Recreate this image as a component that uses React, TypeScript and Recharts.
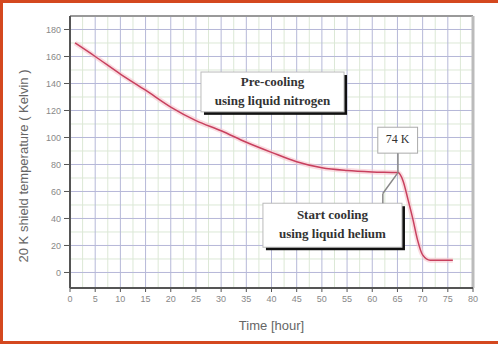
import {
  LineChart,
  Line,
  XAxis,
  YAxis,
  CartesianGrid,
  ReferenceArea,
  ReferenceLine,
  Label,
} from "recharts";

// cool-down of the 20 K shield: LN2 pre-cooling, then liquid helium
const hours = [1, 5, 10, 15, 20, 25, 30, 35, 40, 45, 50, 55, 60, 65.1, 66.1, 67.1, 68.1, 69, 70, 71.5, 76];
const kelvin = [170, 160, 147, 135, 122.5, 112.5, 105, 96.5, 89, 82, 77.5, 75.5, 74.5, 74, 68, 54, 39, 24, 13, 9, 9];

const xTicks = [0, 5, 10, 15, 20, 25, 30, 35, 40, 45, 50, 55, 60, 65, 70, 75, 80];
const xMinor = [2.5, 7.5, 12.5, 17.5, 22.5, 27.5, 32.5, 37.5, 42.5, 47.5, 52.5, 57.5, 62.5, 67.5, 72.5, 77.5];
const yTicks = [0, 20, 40, 60, 80, 100, 120, 140, 160, 180];
const yMinor = [10, 30, 50, 70, 90, 110, 130, 150, 170];

const precoolNote = ["Pre-cooling", "using liquid nitrogen"];
const heliumNote = ["Start cooling", "using liquid helium"];
const peakNote = ["74 K"];

const data = hours.map((h, i) => ({ hour: h, kelvin: kelvin[i] }));

const TICK = { fontSize: 9, fill: "#888", fontFamily: "Liberation Sans, Arial" };
const TITLE_FONT = "Liberation Sans, Arial";

interface NoteProps {
  x?: number;
  y?: number;
  width?: number;
  height?: number;
  lines: string[];
  shadow?: boolean;
  bold?: boolean;
}

function NoteBox({ x = 0, y = 0, width = 0, height = 0, lines, shadow, bold }: NoteProps) {
  const cx = x + width / 2;
  const gap = 19;
  const top = y + height / 2 - ((lines.length - 1) * gap) / 2 - 1;
  return (
    <g>
      {shadow && <rect x={x + 3} y={y + 3} width={width} height={height} fill="#111" />}
      <rect x={x} y={y} width={width} height={height} fill="#fff" stroke={shadow ? "#bbb" : "#aaa"} strokeWidth={1} />
      {lines.map((t, i) => (
        <text
          key={t}
          x={cx}
          y={top + i * gap}
          textAnchor="middle"
          dominantBaseline="central"
          fontFamily="Liberation Serif, Times New Roman, serif"
          fontWeight={bold ? "bold" : "normal"}
          fontSize={bold ? 13 : 12}
          fill="#333"
        >
          {t}
        </text>
      ))}
    </g>
  );
}

export default function App() {
  return (
    <div style={{ position: "absolute", left: 0, top: 0, width: 501, height: 344, background: "#fff" }}>
      <div
        style={{
          position: "absolute",
          left: 0,
          top: 0,
          width: 498,
          height: 344,
          boxSizing: "border-box",
          borderTop: "3px solid #d4481f",
          borderLeft: "3px solid #d4481f",
          borderBottom: "3px solid #d4481f",
        }}
      />
      <div style={{ position: "absolute", left: 0, top: 0 }}>
        <LineChart width={501} height={344} data={data} margin={{ top: 16, right: 28, bottom: 26, left: 0 }}>
          <CartesianGrid horizontalValues={yMinor} verticalValues={xMinor} stroke="#dce8d6" strokeWidth={1} />
          <CartesianGrid horizontalValues={yTicks} verticalValues={xTicks} stroke="#b6b8d8" strokeWidth={1} />
          <XAxis
            dataKey="hour"
            type="number"
            domain={[0, 80]}
            ticks={xTicks}
            interval={0}
            allowDataOverflow
            tick={TICK}
            tickSize={4}
            tickMargin={4}
            height={30}
            axisLine={{ stroke: "#555", strokeWidth: 2 }}
            tickLine={{ stroke: "#555" }}
          >
            <Label
              content={({ viewBox }: any) => (
                <text
                  x={viewBox.x + viewBox.width / 2}
                  y={viewBox.y + 37}
                  textAnchor="middle"
                  dominantBaseline="central"
                  fontFamily={TITLE_FONT}
                  fontSize={13}
                  fill="#666"
                >
                  Time [hour]
                </text>
              )}
            />
          </XAxis>
          <YAxis
            type="number"
            domain={[-11.5, 190]}
            ticks={yTicks}
            interval={0}
            allowDataOverflow
            width={70}
            tick={TICK}
            tickSize={6}
            tickMargin={3}
            axisLine={{ stroke: "#555", strokeWidth: 2 }}
            tickLine={{ stroke: "#555" }}
          >
            <Label
              content={({ viewBox }: any) => {
                const cx = viewBox.x + 23;
                const cy = viewBox.y + viewBox.height / 2 + 14;
                return (
                  <text
                    x={cx}
                    y={cy}
                    transform={`rotate(-90, ${cx}, ${cy})`}
                    textAnchor="middle"
                    dominantBaseline="central"
                    fontFamily={TITLE_FONT}
                    fontSize={13}
                    fill="#666"
                  >
                    20 K shield temperature ( Kelvin )
                  </text>
                );
              }}
            />
          </YAxis>
          <ReferenceLine y={190} stroke="#999" strokeWidth={2} />
          <ReferenceLine x={80} stroke="#bbb" strokeWidth={3} />
          <Line
            dataKey="kelvin"
            type="monotone"
            stroke="#f7c4cd"
            strokeWidth={5}
            strokeOpacity={0.6}
            dot={false}
            isAnimationActive={false}
          />
          <Line dataKey="kelvin" type="monotone" stroke="#c8405e" strokeWidth={1.5} dot={false} isAnimationActive={false} />
          <ReferenceLine segment={[{ x: 65.1, y: 88.4 }, { x: 65.1, y: 74 }]} stroke="#888" strokeWidth={1.5} />
          <ReferenceLine segment={[{ x: 62.1, y: 51.3 }, { x: 62.1, y: 58.5 }]} stroke="#888" strokeWidth={1.5} />
          <ReferenceLine segment={[{ x: 62.1, y: 58.5 }, { x: 65.1, y: 74 }]} stroke="#888" strokeWidth={1.5} />
          <ReferenceArea
            x1={26}
            x2={54.4}
            y1={119}
            y2={148.5}
            ifOverflow="visible"
            shape={(p: any) => <NoteBox {...p} lines={precoolNote} shadow bold />}
          />
          <ReferenceArea
            x1={61.1}
            x2={69}
            y1={88.4}
            y2={107.6}
            ifOverflow="visible"
            shape={(p: any) => <NoteBox {...p} lines={peakNote} />}
          />
          <ReferenceArea
            x1={38.3}
            x2={65.9}
            y1={18.7}
            y2={51.3}
            ifOverflow="visible"
            shape={(p: any) => <NoteBox {...p} lines={heliumNote} shadow bold />}
          />
        </LineChart>
      </div>
    </div>
  );
}
